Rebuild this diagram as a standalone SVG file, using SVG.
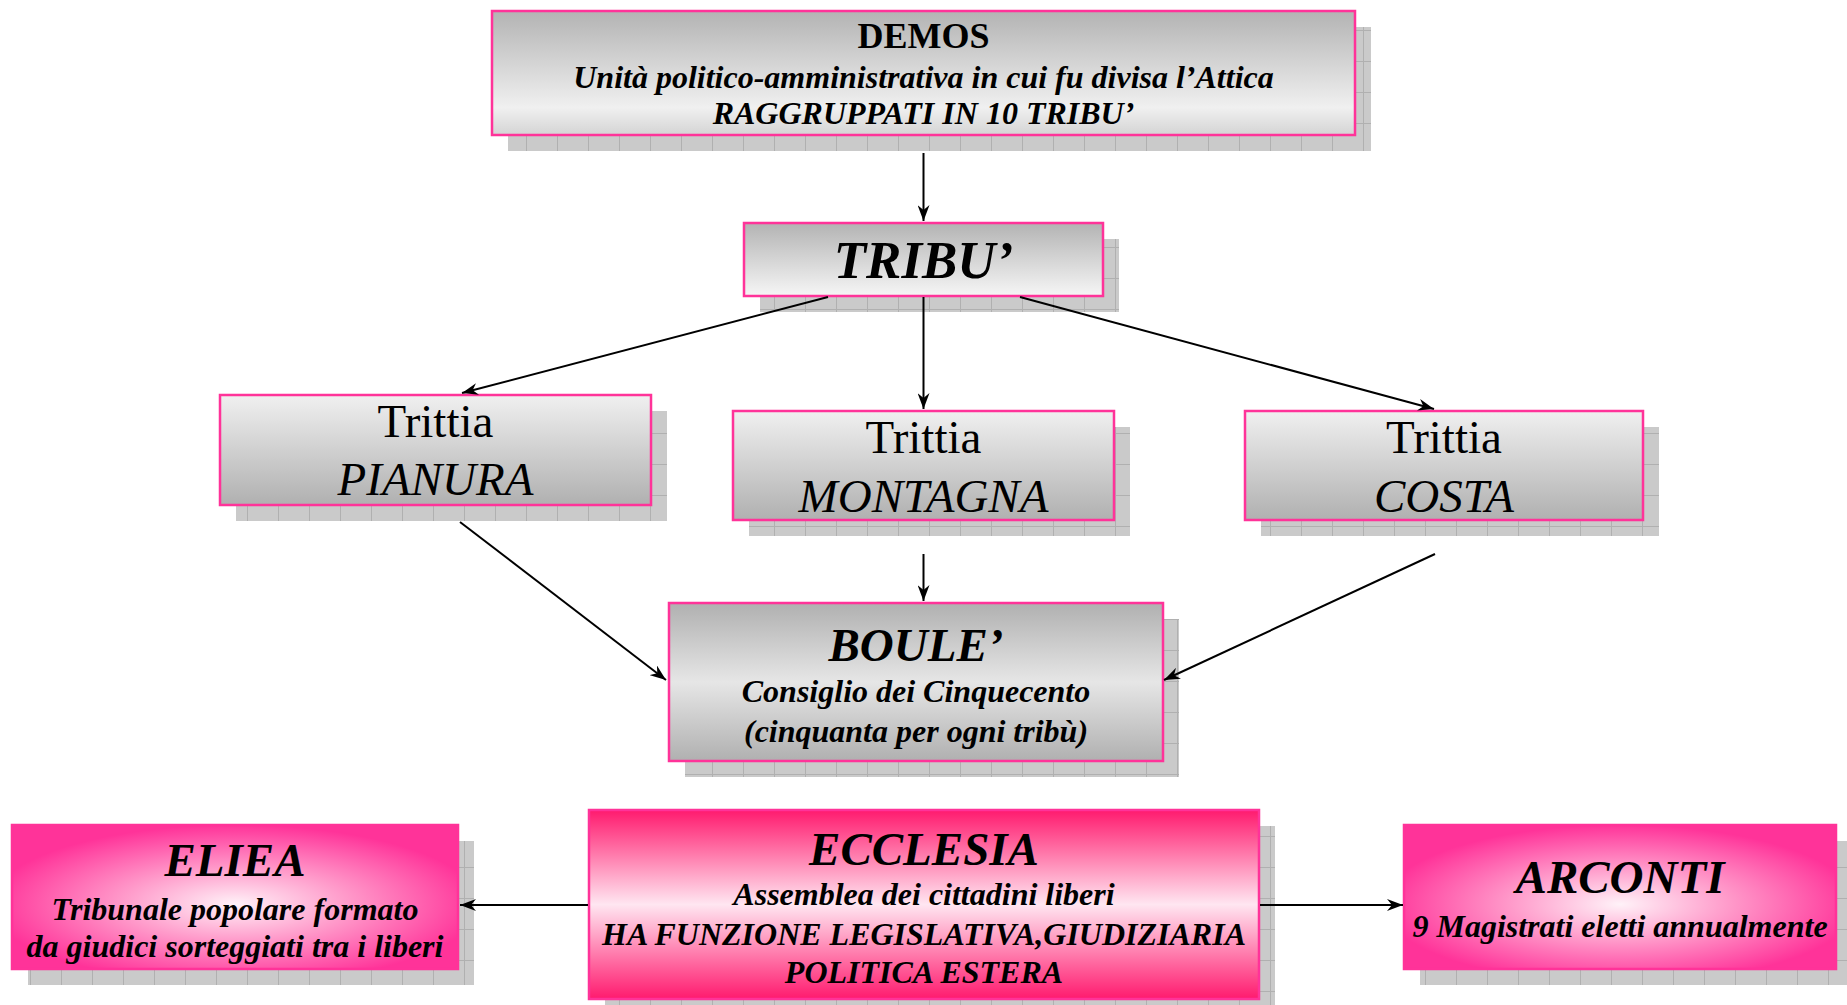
<svg xmlns="http://www.w3.org/2000/svg" width="1847" height="1005" viewBox="0 0 1847 1005">
<style>
.t{font-family:"Liberation Serif","Times New Roman",serif;fill:#000;text-anchor:middle}
.bi{font-weight:bold;font-style:italic}
.b{font-weight:bold}
.i{font-style:italic}
.box{stroke:#ff3399;stroke-width:2.5}
.sh{fill:url(#grid)}
.con{stroke:#000;stroke-width:2;fill:none;marker-end:url(#arr)}
</style>
<defs>
<pattern id="grid" patternUnits="userSpaceOnUse" width="31" height="31">
<rect width="31" height="31" fill="#cacaca"/>
<path d="M30.5,0V31M0,30.5H31" stroke="#b0b0b0" stroke-width="1"/>
</pattern>
<linearGradient id="gDemos" x1="0" y1="0" x2="0" y2="1">
<stop offset="0" stop-color="#b3b3b3"/><stop offset="0.78" stop-color="#f0f0f0"/><stop offset="1" stop-color="#d4d4d4"/>
</linearGradient>
<linearGradient id="gTribu" x1="0" y1="0" x2="0" y2="1">
<stop offset="0" stop-color="#b3b3b3"/><stop offset="1" stop-color="#f6f6f6"/>
</linearGradient>
<linearGradient id="gTrit" x1="0" y1="0" x2="0" y2="1">
<stop offset="0" stop-color="#f0f0f0"/><stop offset="1" stop-color="#b0b0b0"/>
</linearGradient>
<linearGradient id="gBoule" x1="0" y1="0" x2="0" y2="1">
<stop offset="0" stop-color="#b0b0b0"/><stop offset="0.5" stop-color="#e6e6e6"/><stop offset="1" stop-color="#b0b0b0"/>
</linearGradient>
<linearGradient id="gEccl" x1="0" y1="0" x2="0" y2="1">
<stop offset="0" stop-color="#ff1a6e"/><stop offset="0.5" stop-color="#ffe6f1"/><stop offset="1" stop-color="#ff1a6e"/>
</linearGradient>
<radialGradient id="gPink" cx="0.5" cy="0.55" r="0.55">
<stop offset="0" stop-color="#fff2f8"/><stop offset="0.45" stop-color="#ff9ccb"/><stop offset="1" stop-color="#ff3399"/>
</radialGradient>
<marker id="arr" markerUnits="userSpaceOnUse" markerWidth="17" markerHeight="12" refX="16" refY="6" orient="auto">
<path d="M0,0 L16,6 L0,12 L5,6 z" fill="#000"/>
</marker>
</defs>

<g id="demos">
<rect class="sh" x="508" y="27" width="863" height="124"/>
<rect class="box" x="492" y="11" width="863" height="124" fill="url(#gDemos)"/>
<text class="t b" x="923.5" y="48" font-size="36">DEMOS</text>
<text class="t bi" x="923.5" y="88" font-size="32">Unità politico-amministrativa in cui fu divisa l’Attica</text>
<text class="t bi" x="923.5" y="124" font-size="32">RAGGRUPPATI IN 10 TRIBU’</text>
</g>

<g id="tribu">
<rect class="sh" x="760" y="239" width="359" height="73"/>
<rect class="box" x="744" y="223" width="359" height="73" fill="url(#gTribu)"/>
<text class="t bi" x="923.5" y="278" font-size="53">TRIBU’</text>
</g>

<g id="pianura">
<rect class="sh" x="236" y="411" width="431" height="110"/>
<rect class="box" x="220" y="395" width="431" height="110" fill="url(#gTrit)"/>
<text class="t" x="435.5" y="437" font-size="47">Trittia</text>
<text class="t i" x="435.5" y="495" font-size="47">PIANURA</text>
</g>

<g id="montagna">
<rect class="sh" x="749" y="427" width="381" height="109"/>
<rect class="box" x="733" y="411" width="381" height="109" fill="url(#gTrit)"/>
<text class="t" x="923.5" y="453" font-size="47">Trittia</text>
<text class="t i" x="923.5" y="512" font-size="47">MONTAGNA</text>
</g>

<g id="costa">
<rect class="sh" x="1261" y="427" width="398" height="109"/>
<rect class="box" x="1245" y="411" width="398" height="109" fill="url(#gTrit)"/>
<text class="t" x="1444" y="453" font-size="47">Trittia</text>
<text class="t i" x="1444" y="512" font-size="47">COSTA</text>
</g>

<g id="boule">
<rect class="sh" x="685" y="619" width="494" height="158"/>
<rect class="box" x="669" y="603" width="494" height="158" fill="url(#gBoule)"/>
<text class="t bi" x="916" y="661" font-size="47">BOULE’</text>
<text class="t bi" x="916" y="702" font-size="32">Consiglio dei Cinquecento</text>
<text class="t bi" x="916" y="742" font-size="32">(cinquanta per ogni tribù)</text>
</g>

<g id="eliea">
<rect class="sh" x="28" y="841" width="446" height="144"/>
<rect class="box" x="12" y="825" width="446" height="144" fill="url(#gPink)"/>
<text class="t bi" x="235" y="876" font-size="47">ELIEA</text>
<text class="t bi" x="235" y="920" font-size="32">Tribunale popolare formato</text>
<text class="t bi" x="235" y="957" font-size="32">da giudici sorteggiati tra i liberi</text>
</g>

<g id="ecclesia">
<rect class="sh" x="605" y="826" width="670" height="189"/>
<rect class="box" x="589" y="810" width="670" height="189" fill="url(#gEccl)"/>
<text class="t bi" x="924" y="865" font-size="47">ECCLESIA</text>
<text class="t bi" x="924" y="905" font-size="32">Assemblea dei cittadini liberi</text>
<text class="t bi" x="924" y="945" font-size="32">HA FUNZIONE LEGISLATIVA,GIUDIZIARIA</text>
<text class="t bi" x="924" y="983" font-size="32">POLITICA ESTERA</text>
</g>

<g id="arconti">
<rect class="sh" x="1420" y="841" width="432" height="144"/>
<rect class="box" x="1404" y="825" width="432" height="144" fill="url(#gPink)"/>
<text class="t bi" x="1620" y="893" font-size="47">ARCONTI</text>
<text class="t bi" x="1620" y="937" font-size="32">9 Magistrati eletti annualmente</text>
</g>

<g id="connectors">
<line class="con" x1="923.5" y1="153" x2="923.5" y2="221"/>
<line class="con" x1="828" y1="297" x2="462" y2="393"/>
<line class="con" x1="923.5" y1="297" x2="923.5" y2="409"/>
<line class="con" x1="1020" y1="297" x2="1434" y2="409"/>
<line class="con" x1="460" y1="522" x2="666" y2="680"/>
<line class="con" x1="923.5" y1="554" x2="923.5" y2="601"/>
<line class="con" x1="1435" y1="554" x2="1164" y2="680"/>
<line class="con" x1="588" y1="905" x2="460" y2="905"/>
<line class="con" x1="1260" y1="905" x2="1403" y2="905"/>
</g>
</svg>
